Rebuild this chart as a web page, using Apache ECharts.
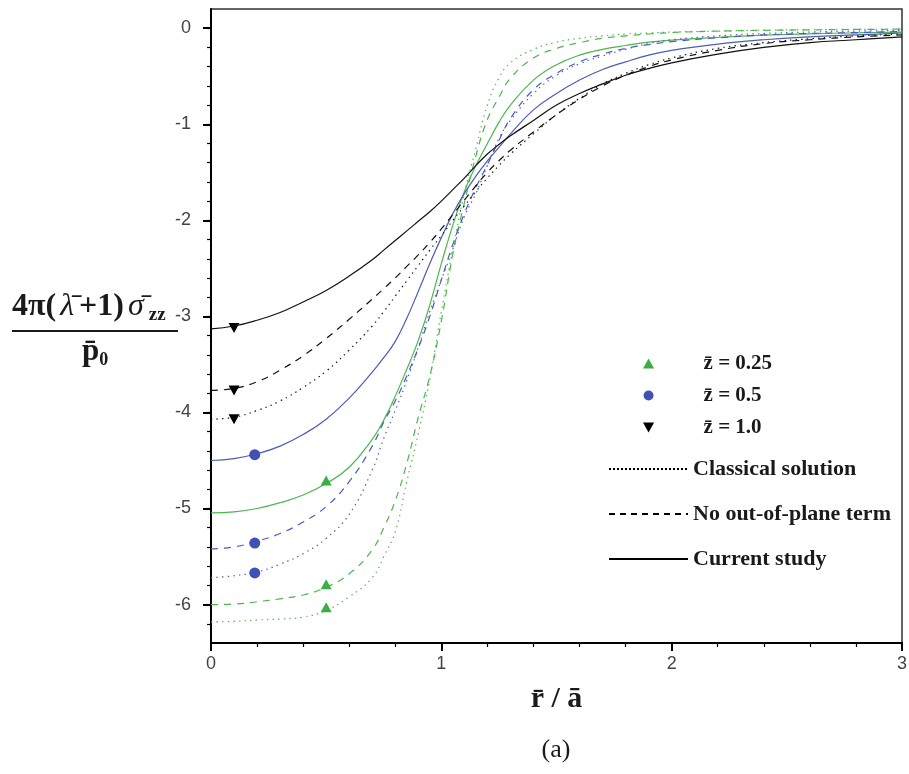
<!DOCTYPE html>
<html><head><meta charset="utf-8">
<script src="https://cdn.jsdelivr.net/npm/echarts@6/dist/echarts.min.js"></script>
<style>html,body{margin:0;padding:0;background:#fff}#c{width:909px;height:774px}</style>
</head><body><div id="c"></div>
<script>
// ---- data ----
const xs = [0,0.1,0.2,0.3,0.4,0.5,0.6,0.7,0.75,0.8,0.85,0.9,0.95,1.0,1.05,1.1,1.15,1.2,1.25,1.3,1.4,1.5,1.6,1.7,1.8,1.9,2.0,2.2,2.4,2.6,2.8,3.0];
// z = 1.0 (black)
const current_z1   = [-3.13,-3.10,-3.04,-2.96,-2.85,-2.73,-2.58,-2.41,-2.31,-2.21,-2.11,-2.01,-1.91,-1.80,-1.68,-1.56,-1.43,-1.31,-1.21,-1.12,-0.96,-0.80,-0.68,-0.58,-0.49,-0.42,-0.36,-0.27,-0.20,-0.15,-0.12,-0.09];
const noOut_z1     = [-3.77,-3.75,-3.68,-3.56,-3.41,-3.23,-3.03,-2.82,-2.71,-2.60,-2.48,-2.36,-2.23,-2.09,-1.94,-1.79,-1.64,-1.50,-1.38,-1.27,-1.08,-0.90,-0.74,-0.60,-0.49,-0.40,-0.33,-0.23,-0.16,-0.12,-0.09,-0.07];
const classical_z1 = [-4.07,-4.05,-3.98,-3.88,-3.74,-3.57,-3.35,-3.10,-2.95,-2.79,-2.63,-2.47,-2.31,-2.16,-2.00,-1.85,-1.70,-1.56,-1.43,-1.31,-1.10,-0.90,-0.73,-0.58,-0.47,-0.38,-0.31,-0.21,-0.15,-0.11,-0.08,-0.06];
// z = 0.5 (blue)
const current_z05   = [-4.50,-4.48,-4.43,-4.35,-4.23,-4.07,-3.85,-3.58,-3.43,-3.26,-3.02,-2.74,-2.45,-2.18,-1.93,-1.72,-1.54,-1.38,-1.24,-1.10,-0.85,-0.68,-0.54,-0.43,-0.35,-0.28,-0.23,-0.165,-0.12,-0.09,-0.07,-0.05];
const noOut_z05     = [-5.42,-5.40,-5.34,-5.26,-5.14,-4.98,-4.72,-4.35,-4.10,-3.88,-3.62,-3.33,-3.00,-2.62,-2.25,-1.93,-1.66,-1.42,-1.17,-0.94,-0.64,-0.47,-0.35,-0.27,-0.21,-0.17,-0.14,-0.10,-0.07,-0.055,-0.045,-0.035];
const classical_z05 = [-5.72,-5.70,-5.66,-5.58,-5.47,-5.31,-5.06,-4.60,-4.27,-3.98,-3.67,-3.32,-2.95,-2.62,-2.30,-1.96,-1.72,-1.43,-1.15,-0.96,-0.68,-0.49,-0.37,-0.29,-0.22,-0.16,-0.12,-0.08,-0.055,-0.04,-0.03,-0.025];
// z = 0.25 (green)
const current_z025   = [-5.045,-5.035,-5.00,-4.94,-4.86,-4.74,-4.57,-4.28,-4.08,-3.83,-3.55,-3.25,-2.88,-2.45,-2.05,-1.70,-1.43,-1.20,-0.98,-0.80,-0.54,-0.38,-0.28,-0.22,-0.18,-0.145,-0.125,-0.095,-0.072,-0.058,-0.048,-0.04];
const noOut_z025     = [-6.00,-5.995,-5.97,-5.94,-5.90,-5.82,-5.68,-5.43,-5.20,-4.92,-4.53,-4.05,-3.62,-3.05,-2.35,-1.82,-1.33,-0.95,-0.72,-0.52,-0.31,-0.21,-0.15,-0.105,-0.08,-0.06,-0.045,-0.03,-0.022,-0.017,-0.013,-0.01];
const classical_z025 = [-6.18,-6.175,-6.16,-6.15,-6.13,-6.06,-5.92,-5.72,-5.50,-5.24,-4.72,-4.22,-3.65,-2.95,-2.30,-1.72,-1.25,-0.80,-0.52,-0.36,-0.22,-0.146,-0.105,-0.08,-0.06,-0.05,-0.04,-0.03,-0.02,-0.016,-0.012,-0.01];
// marker points
const markers_z025 = [[0.5,-4.74],[0.5,-5.82],[0.5,-6.06]];
const markers_z05  = [[0.19,-4.44],[0.19,-5.36],[0.19,-5.67]];
const markers_z1   = [[0.1,-3.10],[0.1,-3.75],[0.1,-4.05]];
// ticks
const yMajorTicks = [-6,-5,-4,-3,-2,-1,0];
const yMinorTicks = [-6.2,-6.0,-5.8,-5.6,-5.4,-5.2,-5.0,-4.8,-4.6,-4.4,-4.2,-4.0,-3.8,-3.6,-3.4,-3.2,-3.0,-2.8,-2.6,-2.4,-2.2,-2.0,-1.8,-1.6,-1.4,-1.2,-1.0,-0.8,-0.6,-0.4,-0.2,0];
const legendZ = ['z\u0304 = 0.25','z\u0304 = 0.5','z\u0304 = 1.0'];
const legendStyles = ['Classical solution','No out-of-plane term','Current study'];

const GREEN = '#4cb64c', GREEN_M = '#3cae46', BLUE = '#4a5cbc', BLUE_M = '#3f52b4', BLACK = '#111';
const DOT = [1.4, 4.2], DASH = [7, 6];
const TRI_UP = 'path://M5,0 L10,9 L0,9 Z', TRI_DOWN = 'path://M0,0 L10,0 L5,9 Z';
const pair = ys => xs.map((x,i)=>[x, ys[i]]);
function lineS(name, ys, color, type){
  return {type:'line', name, data: pair(ys), showSymbol:false, symbol:'none', smooth:0.45,
    lineStyle:{color, width:1.2, type}, itemStyle:{color}, z:2, silent:true};
}
const serif = 'Liberation Serif';
const chart = echarts.init(document.getElementById('c'), null, {renderer:'canvas'});
chart.setOption({
  animation:false,
  backgroundColor:'#fff',
  grid:{left:211, right:7, top:9, bottom:131, show:true, borderColor:'#333', borderWidth:1.5, backgroundColor:'transparent', outerBoundsMode:'none'},
  xAxis:{type:'value', min:0, max:3, interval:1,
    name:'r\u0304 / a\u0304', nameLocation:'middle', nameGap:41,
    nameTextStyle:{fontFamily:serif, fontWeight:'bold', fontSize:30, color:'#1a1a1a'},
    axisLine:{show:true, onZero:false, lineStyle:{color:'#000', width:2}},
    axisTick:{show:true, inside:false, length:8, lineStyle:{color:'#000', width:2}},
    minorTick:{show:true, splitNumber:5, length:4, lineStyle:{color:'#000', width:1.2}},
    axisLabel:{fontFamily:'Liberation Sans', fontSize:18, color:'#444', margin:12},
    splitLine:{show:false}, minorSplitLine:{show:false}},
  yAxis:[
    {type:'value', min:-6.4, max:0.2, position:'left',
     axisLine:{show:true, onZero:false, lineStyle:{color:'#000', width:2}},
     axisTick:{show:true, inside:false, length:8, customValues:yMajorTicks, lineStyle:{color:'#000', width:2}},
     axisLabel:{customValues:yMajorTicks, fontFamily:'Liberation Sans', fontSize:18, color:'#444', margin:20},
     splitLine:{show:false}},
    {type:'value', min:-6.4, max:0.2, position:'left',
     axisLine:{show:false, onZero:false},
     axisTick:{show:true, inside:false, length:4, customValues:yMinorTicks, lineStyle:{color:'#000', width:1.2}},
     axisLabel:{show:false}, splitLine:{show:false}}
  ],
  legend:[
    {data:legendZ, orient:'vertical', left:643, top:353, padding:0, itemWidth:100, itemHeight:10, itemGap:11,
     textStyle:{fontFamily:serif, fontWeight:'bold', fontSize:21, color:'#1a1a1a', lineHeight:20}, selectedMode:false},
    {data:legendStyles, orient:'vertical', left:608, top:458, padding:0, itemWidth:79, itemHeight:14, itemGap:23,
     itemStyle:{color:'rgba(0,0,0,0)', borderWidth:0, borderColor:'rgba(0,0,0,0)'},
     textStyle:{fontFamily:serif, fontWeight:'bold', fontSize:22, color:'#1a1a1a', lineHeight:20}, selectedMode:false}
  ],
  series:[
    lineS('cl025', classical_z025, GREEN, DOT),
    lineS('nd025', noOut_z025, GREEN, DASH),
    lineS('cs025', current_z025, GREEN, 'solid'),
    lineS('cl05', classical_z05, BLUE, DOT),
    lineS('nd05', noOut_z05, BLUE, DASH),
    lineS('cs05', current_z05, BLUE, 'solid'),
    lineS('cl1', classical_z1, BLACK, DOT),
    lineS('nd1', noOut_z1, BLACK, DASH),
    lineS('cs1', current_z1, BLACK, 'solid'),
    {type:'line', name:'Classical solution', data:[], symbol:'none', lineStyle:{color:'#000', width:2, type:[2,2]}, itemStyle:{color:'rgba(0,0,0,0)'}},
    {type:'line', name:'No out-of-plane term', data:[], symbol:'none', lineStyle:{color:'#000', width:1.3, type:[6,5]}, itemStyle:{color:'rgba(0,0,0,0)'}},
    {type:'line', name:'Current study', data:[], symbol:'none', lineStyle:{color:'#000', width:1.6, type:'solid'}, itemStyle:{color:'rgba(0,0,0,0)'}},
    {type:'scatter', name:legendZ[0], data:markers_z025, symbol:TRI_UP, symbolSize:[11,10], symbolOffset:[0,-3], itemStyle:{color:GREEN_M, opacity:1}, z:5},
    {type:'scatter', name:legendZ[1], data:markers_z05, symbol:'circle', symbolSize:11, itemStyle:{color:BLUE_M, opacity:1}, z:5},
    {type:'scatter', name:legendZ[2], data:markers_z1, symbol:TRI_DOWN, symbolSize:[11,10], symbolOffset:[0,2], itemStyle:{color:'#000', opacity:1}, z:5}
  ],
  graphic:[
    {type:'text', left:12, top:291, style:{
      text:'{n|4\u03c0(}{i|\u03bb\u0304}{n|+1)}{i|\u03c3\u0304}{s|zz}',
      rich:{
        n:{fontFamily:serif, fontWeight:'bold', fontSize:32, lineHeight:36, fill:'#1a1a1a'},
        i:{fontFamily:serif, fontStyle:'italic', fontSize:32, lineHeight:36, fill:'#1a1a1a', padding:[0,5,0,4]},
        s:{fontFamily:serif, fontWeight:'bold', fontSize:19, lineHeight:18, verticalAlign:'bottom', fill:'#1a1a1a'}
      }}},
    {type:'line', shape:{x1:12, y1:331, x2:178, y2:331}, style:{stroke:'#1a1a1a', lineWidth:2}},
    {type:'text', left:82, top:336, style:{
      text:'{n|p\u0304}{s|0}',
      rich:{
        n:{fontFamily:serif, fontWeight:'bold', fontSize:31, lineHeight:36, fill:'#1a1a1a'},
        s:{fontFamily:serif, fontWeight:'bold', fontSize:18, lineHeight:20, verticalAlign:'bottom', fill:'#1a1a1a'}
      }}},
    {type:'text', x:556, y:750, style:{text:'(a)', fontFamily:serif, fontSize:26, fill:'#1a1a1a', align:'center', verticalAlign:'middle'}}
  ]
});
</script></body></html>
